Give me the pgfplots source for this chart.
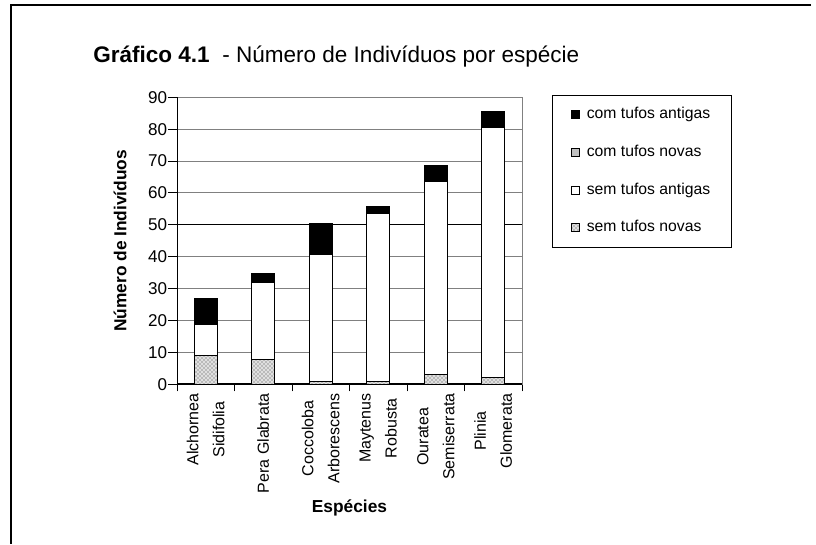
\documentclass[border=0pt]{standalone}
\usepackage{fontspec}
\setmainfont{Liberation Sans}
\usepackage{pgfplots}
\usepackage{pgfplotstable}
\pgfplotsset{compat=1.18}
\usetikzlibrary{patterns}

\definecolor{gridgray}{RGB}{128,128,128}
\definecolor{silver}{RGB}{192,192,192}

% species: sem novas, sem antigas, com novas, com antigas
\pgfplotstableread{
x sn sa cn ca
0 9 9.6 0.4 8
1 7.8 24 0 3
2 0.8 40 0 9.7
3 0.8 52.8 0 2
4 3 60.5 0 5
5 2 78.5 0 5
}\datatable

\begin{document}
\begin{tikzpicture}
\path[use as bounding box] (0,0) rectangle (612pt,408pt);
\draw[line width=0.9pt] (608.25pt,404.25pt) -- (8.25pt,404.25pt) -- (8.25pt,0pt);
\node[anchor=base west,inner sep=0pt,font=\fontsize{16.9}{20}\selectfont] at (69.75pt,361.1pt)
  {\textbf{Gráfico 4.1}\ \ - Número de Indivíduos por espécie};
\begin{axis}[
scale only axis,
at={(132.75pt,119.78pt)},anchor=south west,
width=258.75pt,height=215.25pt,
ybar stacked,bar width=17.5pt,
xmin=-0.5,xmax=5.5,ymin=0,ymax=90,
enlargelimits=false,
xtick={0,...,5},
xticklabels={{Alchornea\\[4.5pt]Sidifolia},{Pera Glabrata},{Coccoloba\\[4.5pt]Arborescens},{Maytenus\\[4.5pt]Robusta},{Ouratea\\[4.5pt]Semiserrata},{Plinia\\[4.5pt]Glomerata}},
minor xtick={-0.5,0.5,...,5.5},
ytick={0,10,...,90},
extra y ticks={50},extra y tick labels={},
extra y tick style={grid style={black,line width=0.75pt}},
tick align=outside,
major tick length=6.75pt,minor tick length=5.25pt,
every major x tick/.append style={draw=none},
tick style={black,line width=0.75pt},
xtick pos=bottom,ytick pos=left,
ymajorgrids,
grid style={gridgray,line width=0.75pt},
axis line style={gridgray,line width=0.75pt},
/pgf/number format/assume math mode=true,
yticklabel style={font=\fontsize{12.8}{14}\selectfont,inner sep=0.5pt},
xticklabel style={rotate=90,anchor=east,align=center,inner sep=0pt,
  font=\fontsize{12}{15}\selectfont},
ylabel={\textbf{Número de Indivíduos}},
ylabel style={at={(axis description cs:-0.165,0.5)},anchor=center,
  font=\fontsize{13}{15}\selectfont},
xlabel={\textbf{Espécies}},
xlabel style={at={(axis description cs:0.5,-0.431)},anchor=center,
  font=\fontsize{13}{15}\selectfont},
reverse legend,
legend cell align=left,
legend image code/.code={\draw[#1] (0pt,-3pt) rectangle (6pt,3pt);},
legend style={at={(axis description cs:1.087,1.008)},anchor=north west,
  draw=black,line width=0.75pt,
  font=\fontsize{11.8}{13}\selectfont,
  inner xsep=14pt,inner ysep=7pt,row sep=13.25pt,column sep=3pt,
  nodes={text height=8.5pt,text depth=2.5pt,inner sep=2pt}},
]
\addplot[draw=black,line width=0.75pt,fill=gray!25,
  postaction={pattern=crosshatch dots,pattern color=black!75}] table[x=x,y=sn] {\datatable};
\addplot[draw=black,line width=0.75pt,fill=white] table[x=x,y=sa] {\datatable};
\addplot[draw=black,line width=0.75pt,fill=silver] table[x=x,y=cn] {\datatable};
\addplot[draw=black,line width=0.75pt,fill=black] table[x=x,y=ca] {\datatable};
\legend{sem tufos novas,sem tufos antigas,com tufos novas,com tufos antigas}
\draw[black,line width=0.75pt] (rel axis cs:0,0) -- (rel axis cs:0,1);
\draw[black,line width=1.5pt] (rel axis cs:0,0) -- (rel axis cs:1,0);
\end{axis}
\end{tikzpicture}
\end{document}
